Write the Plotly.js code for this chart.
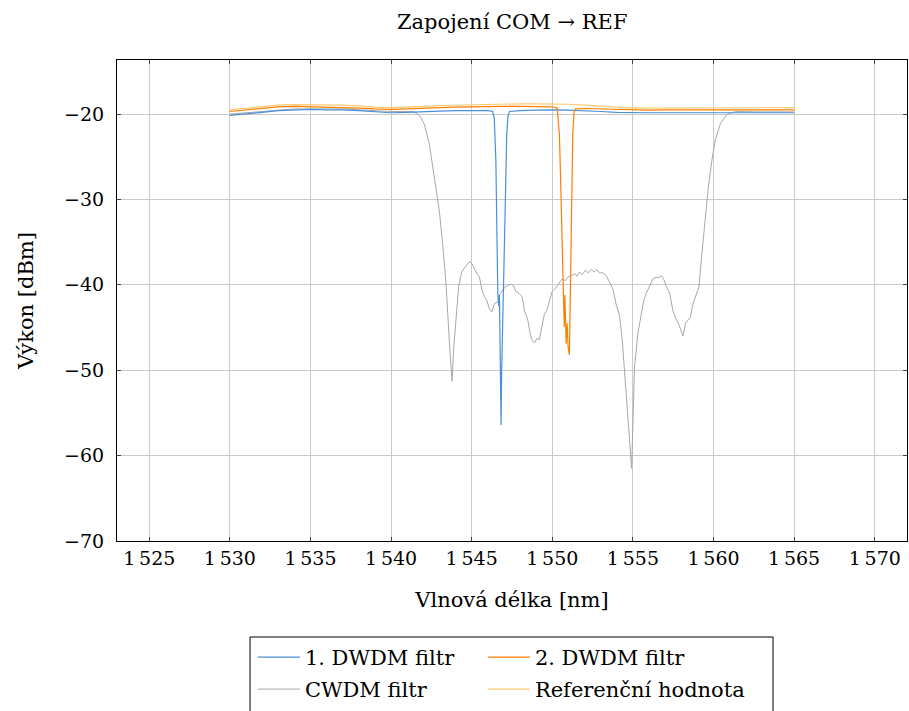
<!DOCTYPE html>
<html><head><meta charset="utf-8">
<script src="https://cdn.plot.ly/plotly-3.0.1.min.js"></script>
<style>body{margin:0;padding:0;background:#fff}#chart{width:909px;height:711px}</style>
</head><body><div id="chart"></div>
<script>
// ---- data ----
const dwdm1X = [1530,1531,1532,1533,1534,1535,1536,1537,1538,1539,1540,1541,1542,1543,1544,1545,1546,1546.3,1546.4,1546.5,1546.57,1546.62,1546.68,1546.72,1546.76,1546.8,1546.82,1546.86,1546.9,1546.93,1546.97,1547.02,1547.09,1547.17,1547.25,1547.35,1548,1549,1550,1551,1552,1553,1554,1555,1556,1557,1558,1559,1560,1561,1562,1563,1564,1565];
const dwdm1Y = [-20.15,-20.0,-19.8,-19.6,-19.5,-19.45,-19.5,-19.5,-19.6,-19.75,-19.85,-19.8,-19.7,-19.65,-19.6,-19.6,-19.6,-19.7,-20.5,-25.5,-34,-41,-42.5,-41.2,-47,-54,-56.4,-50,-45.7,-45.5,-41,-35,-30,-22.5,-20.2,-19.7,-19.6,-19.55,-19.5,-19.55,-19.6,-19.7,-19.8,-19.85,-19.85,-19.85,-19.85,-19.85,-19.85,-19.85,-19.85,-19.85,-19.85,-19.85];

const dwdm2X = [1530,1531,1532,1533,1534,1535,1536,1537,1538,1539,1540,1541,1542,1543,1544,1545,1546,1547,1548,1549,1550,1550.3,1550.44,1550.52,1550.59,1550.69,1550.74,1550.78,1550.82,1550.86,1550.92,1550.98,1551.06,1551.1,1551.14,1551.19,1551.27,1551.35,1551.45,1552,1553,1554,1555,1556,1557,1558,1559,1560,1561,1562,1563,1564,1565];
const dwdm2Y = [-19.7,-19.5,-19.3,-19.15,-19.1,-19.15,-19.15,-19.2,-19.3,-19.4,-19.45,-19.4,-19.3,-19.25,-19.2,-19.15,-19.1,-19.1,-19.1,-19.1,-19.15,-19.3,-22.3,-28,-34,-39.1,-44.9,-41.2,-44,-46.9,-44.5,-47.3,-48.2,-44,-36,-30.1,-22.3,-19.8,-19.4,-19.35,-19.4,-19.5,-19.55,-19.55,-19.5,-19.5,-19.5,-19.5,-19.5,-19.5,-19.5,-19.5,-19.5];

const cwdmX = [1530,1531,1532,1533,1534,1535,1536,1537,1538,1539,1540,1541,1541.3,1541.6,1541.85,1542.06,1542.37,1542.68,1542.99,1543.2,1543.41,1543.61,1543.78,1543.88,1544.03,1544.19,1544.38,1544.54,1544.75,1544.92,1545.06,1545.27,1545.48,1545.64,1545.79,1545.93,1546.1,1546.24,1546.41,1546.61,1546.78,1546.93,1547.09,1547.24,1547.44,1547.59,1547.75,1547.92,1548.13,1548.27,1548.48,1548.62,1548.75,1548.89,1549.04,1549.2,1549.37,1549.51,1549.66,1549.82,1549.99,1550.2,1550.4,1550.61,1550.82,1550.96,1551.17,1551.38,1551.54,1551.69,1551.85,1552.06,1552.23,1552.41,1552.58,1552.76,1552.93,1553.14,1553.34,1553.55,1553.76,1553.96,1554.17,1554.34,1554.54,1554.75,1554.92,1555.1,1555.31,1555.52,1555.68,1555.83,1556.04,1556.24,1556.45,1556.61,1556.76,1556.9,1557.07,1557.28,1557.48,1557.65,1557.86,1558.1,1558.27,1558.42,1558.56,1558.73,1558.93,1559.1,1559.24,1559.45,1559.66,1559.9,1560.1,1560.43,1560.85,1561.4,1562,1563,1564,1565];
const cwdmY = [-20.0,-19.85,-19.7,-19.5,-19.4,-19.4,-19.4,-19.4,-19.5,-19.6,-19.7,-19.7,-19.7,-19.9,-20.4,-21.2,-23.5,-27.4,-31.3,-35.2,-39.9,-46.5,-51.3,-47.6,-43.4,-40.2,-38.5,-38.1,-37.5,-37.3,-37.7,-38.5,-39.1,-40.6,-41.4,-41.8,-42.8,-43.2,-42.2,-42.0,-41.0,-40.6,-40.2,-40.1,-39.9,-40.1,-40.8,-41.0,-41.4,-43.0,-44.1,-45.7,-46.5,-46.8,-46.3,-46.4,-44.9,-43.4,-43.0,-41.8,-40.8,-40.4,-39.9,-39.3,-39.5,-39.1,-38.9,-38.7,-39.0,-38.5,-38.8,-38.3,-38.6,-38.2,-38.5,-38.2,-38.6,-38.6,-38.9,-39.7,-40.5,-42.3,-43.6,-46.5,-51.5,-56.6,-61.5,-49.6,-45.7,-43.4,-41.8,-41.0,-40.2,-39.3,-39.1,-39.2,-38.9,-39.3,-40.2,-41.0,-43.0,-43.9,-44.7,-46.0,-44.5,-44.1,-43.8,-42.2,-41.2,-40.2,-37.1,-32.8,-28.9,-25.4,-23.1,-21.1,-20.0,-19.7,-19.75,-19.75,-19.75,-19.75];

const refX = [1530,1531,1532,1533,1534,1535,1536,1537,1538,1539,1540,1541,1542,1543,1544,1545,1546,1547,1548,1549,1550,1551,1552,1553,1554,1555,1556,1557,1558,1559,1560,1561,1562,1563,1564,1565];
const refY = [-19.5,-19.3,-19.1,-18.95,-18.9,-18.9,-18.95,-18.95,-19.05,-19.2,-19.25,-19.2,-19.1,-19.0,-18.95,-18.9,-18.85,-18.85,-18.8,-18.8,-18.8,-18.85,-18.95,-19.1,-19.2,-19.3,-19.3,-19.25,-19.25,-19.25,-19.25,-19.3,-19.3,-19.3,-19.25,-19.25];

const seriesNames = ["1. DWDM filtr","2. DWDM filtr","CWDM filtr","Referenční hodnota"];
const xTickVals = [1525,1530,1535,1540,1545,1550,1555,1560,1565,1570];
const xTickText = ["1\u2009525","1\u2009530","1\u2009535","1\u2009540","1\u2009545","1\u2009550","1\u2009555","1\u2009560","1\u2009565","1\u2009570"];
const yTickVals = [-70,-60,-50,-40,-30,-20];
const yTickText = ["\u221270","\u221260","\u221250","\u221240","\u221230","\u221220"];

// ---- chart ----
const FONT = "DejaVu Serif";
const traces = [
  {x: refX, y: refY, name: seriesNames[3], mode:'lines', line:{color:'#FFC870', width:1.2}, legend:'legend2', legendrank:2, legendwidth:240},
  {x: cwdmX, y: cwdmY, name: seriesNames[2], mode:'lines', line:{color:'#A8A8A8', width:1}, legend:'legend2', legendrank:1},
  {x: dwdm1X, y: dwdm1Y, name: seriesNames[0], mode:'lines', line:{color:'#4A90D9', width:1.2}, legend:'legend', legendrank:1},
  {x: dwdm2X, y: dwdm2Y, name: seriesNames[1], mode:'lines', line:{color:'#FF8000', width:1.2}, legend:'legend', legendrank:2}
];
const legendCommon = {
  orientation:'h', xanchor:'left', yanchor:'top', bgcolor:'rgba(0,0,0,0)', borderwidth:0,
  font:{family:FONT, size:21, color:'#000'}, itemwidth:42, entrywidth:173, entrywidthmode:'pixels',
  traceorder:'normal', itemclick:false
};
const layout = {
  width:909, height:711,
  margin:{l:117, r:2, t:60, b:170, pad:0, autoexpand:false},
  paper_bgcolor:'#fff', plot_bgcolor:'#fff',
  font:{family:FONT, color:'#000', size:19},
  title:{text:'Zapojení COM → REF', x:0.5635, xanchor:'center', y:0.97, yanchor:'middle', font:{family:FONT, size:21, color:'#000'}},
  xaxis:{range:[1523,1572], tickvals:xTickVals, ticktext:xTickText, showgrid:true, gridcolor:'#CBCBCB', gridwidth:1,
    zeroline:false, showline:true, linecolor:'#000', linewidth:1, mirror:'ticks', ticks:'inside', ticklen:4, tickcolor:'#444',
    automargin:false, tickfont:{family:FONT, size:19}, title:{text:'Vlnová délka [nm]', font:{family:FONT, size:21}, standoff:24}},
  yaxis:{range:[-70,-13.67], tickvals:yTickVals, ticktext:yTickText, showgrid:true, gridcolor:'#CBCBCB', gridwidth:1,
    zeroline:false, showline:true, linecolor:'#000', linewidth:1, mirror:'ticks', ticks:'inside', ticklen:4, tickcolor:'#444',
    automargin:false, ticklabelstandoff:8, tickfont:{family:FONT, size:19}, title:{text:'Výkon [dBm]', font:{family:FONT, size:21}, standoff:24}},
  legend:Object.assign({x:0.172, y:-0.1996}, legendCommon),
  legend2:Object.assign({x:0.172, y:-0.266}, legendCommon),
  shapes:[{type:'rect', xref:'paper', yref:'paper', x0:0.1684, x1:0.8304, y0:-0.1996, y1:-0.40, line:{color:'#000', width:1}, fillcolor:'rgba(0,0,0,0)'}],
  showlegend:true
};
Plotly.newPlot('chart', traces, layout, {displayModeBar:false, staticPlot:true});
</script>
</body></html>
